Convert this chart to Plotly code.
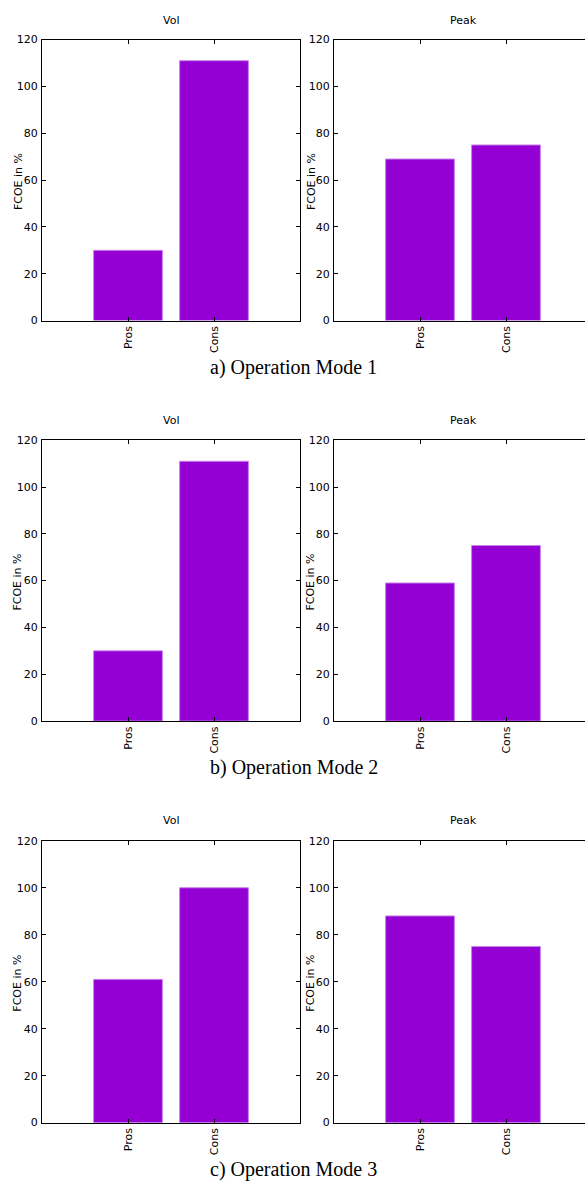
import plotly.graph_objects as go

categories = ["Pros", "Cons"]
panel_titles = ["Vol", "Peak"]
captions = ["a) Operation Mode 1", "b) Operation Mode 2", "c) Operation Mode 3"]
y_title = "FCOE in %"
y_ticks = [0, 20, 40, 60, 80, 100, 120]

mode1_vol = [30, 111]
mode1_peak = [69, 75]
mode2_vol = [30, 111]
mode2_peak = [59, 75]
mode3_vol = [61, 100]
mode3_peak = [88, 75]

rows = [[mode1_vol, mode1_peak], [mode2_vol, mode2_peak], [mode3_vol, mode3_peak]]

W, H = 585, 1187
BAR = "#9400D3"
FS = 11
TICKFONT = dict(family="DejaVu Sans", size=FS, color="black")

row_px = [(34, 318), (439, 723), (844, 1129)]
col_px = [(42, 300), (334, 585)]
col_range = [[-1, 2], [-1, -1 + (585 - 334) / 86.0]]
title_px_y = [15, 419, 824]
title_px_x = [171, 463]
caption_px_y = [365, 770, 1176]
ylab_px_x = [18, 311]

fig = go.Figure()
annotations = []
n = 0
for r, pair in enumerate(rows):
    for c, vals in enumerate(pair):
        n += 1
        xa = "x" if n == 1 else f"x{n}"
        ya = "y" if n == 1 else f"y{n}"
        fig.add_trace(go.Bar(
            x=categories, y=vals, xaxis=xa, yaxis=ya, width=0.8,
            marker=dict(color=BAR, line=dict(color="#c784ea", width=1)),
            showlegend=False, hoverinfo="skip",
        ))
        t, b = row_px[r]
        l, rr = col_px[c]
        xdom = [l / W, rr / W]
        ydom = [1 - b / H, 1 - t / H]
        xkey = "xaxis" if n == 1 else f"xaxis{n}"
        ykey = "yaxis" if n == 1 else f"yaxis{n}"
        fig.update_layout(**{
            xkey: dict(
                domain=xdom, anchor=ya, type="category",
                categoryorder="array", categoryarray=categories,
                range=col_range[c], showline=True, linecolor="black", linewidth=1,
                mirror="allticks", ticks="inside", ticklen=4, tickcolor="black",
                tickangle=-90, tickfont=TICKFONT, showgrid=False, zeroline=False,
                fixedrange=True,
            ),
            ykey: dict(
                domain=ydom, anchor=xa, range=[0, 120], tickvals=y_ticks,
                showline=True, linecolor="black", linewidth=1,
                mirror=("allticks" if c == 0 else False),
                ticks="inside", ticklen=4, tickcolor="black",
                tickfont=TICKFONT, showgrid=False, zeroline=False,
                ticklabelstandoff=1,
            ),
        })
        annotations.append(dict(
            text=panel_titles[c], x=title_px_x[c] / W, y=1 - title_px_y[r] / H,
            xref="paper", yref="paper", showarrow=False,
            xanchor="center", yanchor="middle",
            font=dict(family="DejaVu Sans", size=FS, color="black"),
        ))
        annotations.append(dict(
            text=y_title, x=ylab_px_x[c] / W, y=1 - ((t + b) / 2 + 2) / H,
            xref="paper", yref="paper", showarrow=False, textangle=-90,
            xanchor="center", yanchor="middle",
            font=dict(family="DejaVu Sans", size=FS, color="black"),
        ))
    annotations.append(dict(
        text=captions[r], x=293.5 / W, y=1 - caption_px_y[r] / H,
        xref="paper", yref="paper", showarrow=False,
        xanchor="center", yanchor="middle",
        font=dict(family="Liberation Serif", size=20, color="black"),
    ))

fig.update_layout(
    width=W, height=H, margin=dict(l=0, r=0, t=0, b=0),
    paper_bgcolor="white", plot_bgcolor="white",
    annotations=annotations, bargap=0.2,
)

fig.write_html("out.html", config={"displayModeBar": False})
